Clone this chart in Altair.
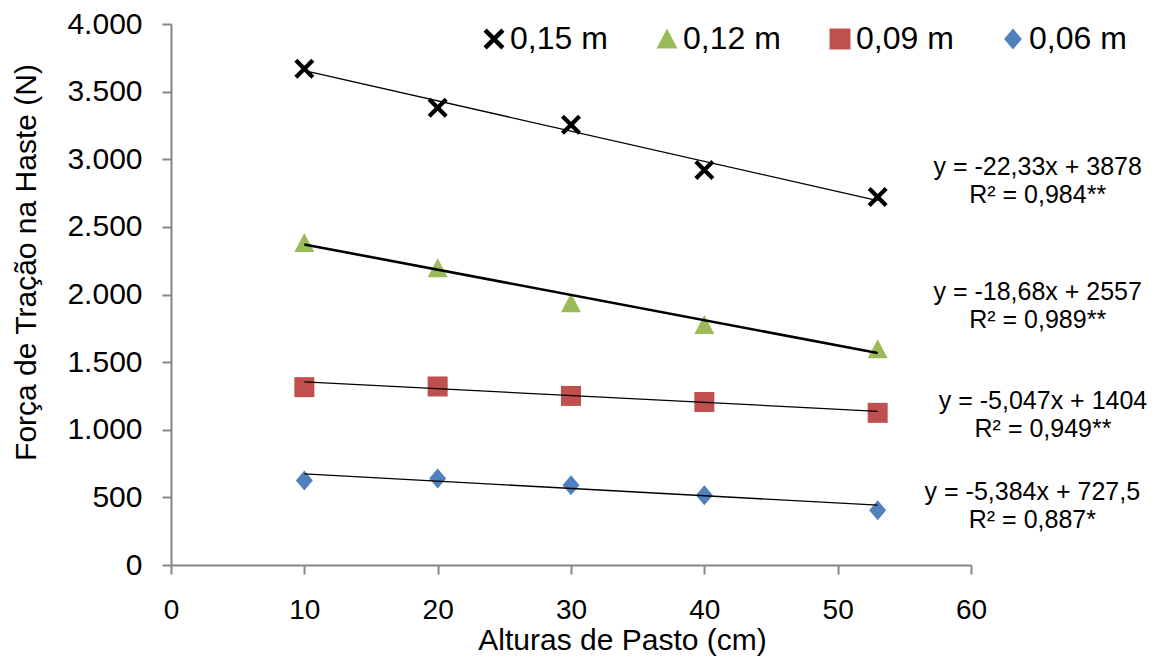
import altair as alt
import pandas as pd

# Pasture heights (cm) and traction force on the shank (N) per working depth
alturas = [10, 20, 30, 40, 53]
series = ["0,15 m", "0,12 m", "0,09 m", "0,06 m"]
forca_015 = [3670, 3380, 3255, 2920, 2720]
forca_012 = [2380, 2195, 1935, 1775, 1595]
forca_009 = [1315, 1320, 1250, 1205, 1125]
forca_006 = [625, 640, 590, 515, 405]

# Fitted linear regressions (slope, intercept) and their printed equations
slopes = [-22.33, -18.68, -5.047, -5.384]
intercepts = [3878, 2557, 1404, 727.5]
eq_lines = [
    "y = -22,33x + 3878\nR² = 0,984**",
    "y = -18,68x + 2557\nR² = 0,989**",
    "y = -5,047x + 1404\nR² = 0,949**",
    "y = -5,384x + 727,5\nR² = 0,887*",
]
eq_x = [65.0, 65.0, 65.4, 64.6]
eq_y = [2847, 1922, 1120, 447]

x_ticks = [0, 10, 20, 30, 40, 50, 60]
y_ticks = [0, 500, 1000, 1500, 2000, 2500, 3000, 3500, 4000]

FONT = "Liberation Sans"
AXIS_GREY = "#868686"

colors = ["#000000", "#9BBB59", "#C0504D", "#4F81BD"]
x_path = ("M-1,-0.7L-0.7,-1L0,-0.3L0.7,-1L1,-0.7L0.3,0L1,0.7L0.7,1"
          "L0,0.3L-0.7,1L-1,0.7L-0.3,0Z")
tri_path = "M0,-1L1,0.9L-1,0.9Z"
dia_path = "M0,-1L0.85,0L0,1L-0.85,0Z"
shapes = [x_path, tri_path, "square", dia_path]

values = [forca_015, forca_012, forca_009, forca_006]
points = pd.DataFrame(
    [{"serie": s, "altura": a, "forca": f}
     for s, vals in zip(series, values) for a, f in zip(alturas, vals)]
)

fit_rows = []
for s, m, b in zip(series, slopes, intercepts):
    for a in (alturas[0], alturas[-1]):
        fit_rows.append({"serie": s, "altura": a, "forca": b + m * a})
fits = pd.DataFrame(fit_rows)

labels = pd.DataFrame({"serie": series, "txt": eq_lines, "x": eq_x, "y": eq_y})

x_scale = alt.Scale(domain=[0, 60], nice=False, zero=True)
y_scale = alt.Scale(domain=[0, 4000], nice=False)

x_axis = alt.Axis(
    values=x_ticks, title="Alturas de Pasto (cm)", grid=False,
    labelFontSize=28, labelPadding=22, labelFlush=False, labelOverlap=False,
    titleFontSize=30, titleFontWeight="normal", titleX=451, titleY=60,
    titleAnchor="start", titleAlign="center", titleBaseline="top",
)
y_axis = alt.Axis(
    values=y_ticks, title="Força de Tração na Haste (N)", grid=False,
    labelFontSize=30, labelPadding=20, labelFlush=False, labelOverlap=False,
    labelExpr="replace(format(datum.value, ','), ',', '.')",
    titleFontSize=30, titleFontWeight="normal", titleX=-130, titleY=238,
    titleAnchor="start", titleAlign="center", titleBaseline="bottom", titleAngle=-90,
)

pts = alt.Chart(points).mark_point(filled=True, opacity=1, size=400).encode(
    x=alt.X("altura:Q", scale=x_scale, axis=x_axis),
    y=alt.Y("forca:Q", scale=y_scale, axis=y_axis),
    color=alt.Color(
        "serie:N",
        scale=alt.Scale(domain=series, range=colors),
        legend=alt.Legend(
            orient="none", legendX=307, legendY=-1, direction="horizontal",
            title=None, labelFont=FONT, labelFontSize=32, labelColor="black",
            symbolSize=440, symbolOpacity=1, symbolStrokeWidth=0, labelOffset=0,
            columnPadding=43, padding=0,
        ),
    ),
    shape=alt.Shape("serie:N", scale=alt.Scale(domain=series, range=shapes)),
)

thin = alt.Chart(fits).transform_filter(alt.datum.serie != "0,12 m").mark_line(
    color="black", strokeWidth=1.3
).encode(
    x=alt.X("altura:Q", scale=x_scale),
    y=alt.Y("forca:Q", scale=y_scale),
    detail="serie:N",
)
thick = alt.Chart(fits).transform_filter(alt.datum.serie == "0,12 m").mark_line(
    color="black", strokeWidth=2.6
).encode(
    x=alt.X("altura:Q", scale=x_scale),
    y=alt.Y("forca:Q", scale=y_scale),
    detail="serie:N",
)

eqs = alt.Chart(labels).mark_text(
    font=FONT, fontSize=25, lineHeight=28, lineBreak="\n",
    align="center", baseline="middle", color="black", dy=-13,
).encode(
    x=alt.X("x:Q", scale=x_scale),
    y=alt.Y("y:Q", scale=y_scale),
    text="txt:N",
)

chart = alt.layer(pts, thin, thick, eqs).properties(
    width=800, height=541,
    autosize=alt.AutoSizeParams(type="none"),
    padding={"left": 171, "top": 24, "right": 199, "bottom": 97},
    background="white",
).configure_view(stroke=None).configure_axis(
    domainColor=AXIS_GREY, domainWidth=2, tickColor=AXIS_GREY, tickWidth=2,
    tickSize=9, labelColor="black", titleColor="black",
    labelFont=FONT, titleFont=FONT,
)

chart.save("out.html", embed_options={"renderer": "svg", "actions": False})
